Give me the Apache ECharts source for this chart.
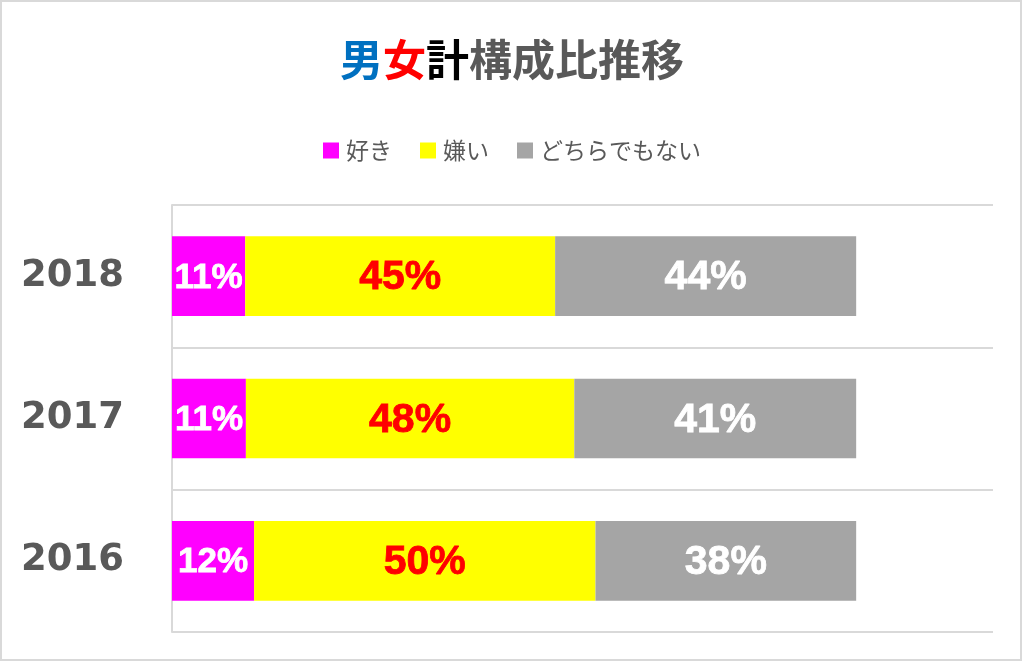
<!DOCTYPE html>
<html>
<head>
<meta charset="utf-8">
<script src="https://cdn.jsdelivr.net/npm/echarts@6/dist/echarts.min.js"></script>
<style>
html,body{margin:0;padding:0;background:#fff;}
#c{width:1024px;height:663px;}
</style>
</head>
<body>
<div id="c"></div>
<script>
const categories = ['2018', '2017', '2016'];
const seriesNames = ['好き', '嫌い', 'どちらでもない'];
const likeValues = [10.7, 10.8, 12.0];
const dislikeValues = [45.3, 48.0, 49.9];
const neutralValues = [44.0, 41.2, 38.1];

const chart = echarts.init(document.getElementById('c'));
const fmt = p => Math.round(p.value) + '%';
const labelBase = {show: true, position: 'inside', fontFamily: 'Liberation Sans, Arial, sans-serif', fontWeight: 'bold', formatter: fmt, offset: [0, 2], textBorderWidth: 0.8};

const titleStyle = c => ({color: c, fontSize: 43, fontWeight: 'bold', fontFamily: 'Noto Sans CJK JP'});

chart.setOption({
  animation: false,
  backgroundColor: '#ffffff',
  graphic: [{
    type: 'rect', silent: true,
    shape: {x: 1, y: 1, width: 1020, height: 659},
    style: {fill: 'none', stroke: '#D9D9D9', lineWidth: 2}
  }],
  title: {
    left: 'center', top: 33,
    text: '{a|男}{b|女}{c|計}{d|構成比推移}',
    textStyle: {
      rich: {
        a: titleStyle('#0070C0'),
        b: titleStyle('#FF0000'),
        c: titleStyle('#000000'),
        d: titleStyle('#595959')
      }
    }
  },
  legend: {
    top: 134, left: 'center',
    icon: 'rect', itemWidth: 16, itemHeight: 16, itemGap: 28,
    textStyle: {color: '#595959', fontSize: 23, fontFamily: 'Noto Sans CJK JP', padding: [0, 0, 0, 2]},
    data: seriesNames
  },
  grid: {left: 172, right: 31, top: 205, bottom: 31, containLabel: false},
  xAxis: {
    type: 'value', min: 0, max: 120,
    show: false, splitLine: {show: false}
  },
  yAxis: {
    type: 'category', inverse: true, data: categories,
    axisLine: {show: true, lineStyle: {color: '#D9D9D9', width: 2}},
    axisTick: {show: false},
    splitLine: {show: true, lineStyle: {color: '#D9D9D9', width: 2}},
    axisLabel: {margin: 48, color: '#595959', fontSize: 37, fontWeight: 'bold', fontFamily: 'DejaVu Sans'}
  },
  series: [
    {name: seriesNames[0], type: 'bar', stack: 't', barWidth: '56%', data: likeValues,
     itemStyle: {color: '#FF00FF'}, label: Object.assign({}, labelBase, {color: '#ffffff', textBorderColor: '#ffffff', fontSize: 35})},
    {name: seriesNames[1], type: 'bar', stack: 't', barWidth: '56%', data: dislikeValues,
     itemStyle: {color: '#FFFF00'}, label: Object.assign({}, labelBase, {color: '#FF0000', textBorderColor: '#FF0000', fontSize: 41})},
    {name: seriesNames[2], type: 'bar', stack: 't', barWidth: '56%', data: neutralValues,
     itemStyle: {color: '#A5A5A5'}, label: Object.assign({}, labelBase, {color: '#ffffff', textBorderColor: '#ffffff', fontSize: 41})}
  ]
});
</script>
</body>
</html>
